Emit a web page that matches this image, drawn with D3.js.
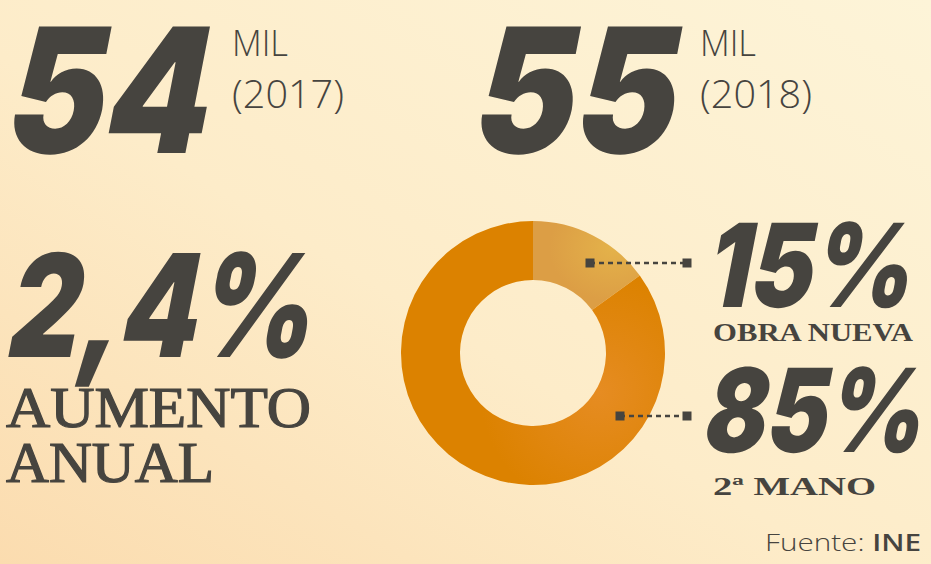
<!DOCTYPE html>
<html>
<head>
<meta charset="utf-8">
<script src="https://cdn.jsdelivr.net/npm/d3@7"></script>
<style>
  html, body { margin: 0; padding: 0; }
  body { width: 931px; height: 564px; overflow: hidden; }
</style>
</head>
<body>
<svg id="chart"></svg>
<script>
// figures
const years = ["2017", "2018"];
const yearTotals = [54, 55];
const totalUnit = "MIL";
const growthLabel = "2,4%";
const growthText = ["AUMENTO", "ANUAL"];
const shareNames = ["OBRA NUEVA", "2ª MANO"];
const shareValues = [15, 85];
const sourceText = "Fuente:";
const sourceName = "INE";

const width = 931, height = 564;
const ink = "#46443f";

const svg = d3.select("#chart")
    .attr("width", width)
    .attr("height", height);

const defs = svg.append("defs");

// warm background gradient
const bg = defs.append("linearGradient").attr("id", "bg")
    .attr("x1", 0).attr("y1", 1).attr("x2", 1).attr("y2", 0);
bg.append("stop").attr("offset", "0%").attr("stop-color", "#fbdcaf");
bg.append("stop").attr("offset", "45%").attr("stop-color", "#fdecc9");
bg.append("stop").attr("offset", "100%").attr("stop-color", "#fdf4d8");
svg.append("rect").attr("width", width).attr("height", height).attr("fill", "url(#bg)");

// slice gradients
const g1 = defs.append("radialGradient").attr("id", "slice0")
    .attr("cx", "75%").attr("cy", "30%").attr("r", "60%");
g1.append("stop").attr("offset", "0%").attr("stop-color", "#e4b24a");
g1.append("stop").attr("offset", "100%").attr("stop-color", "#dc9e45");
const g2 = defs.append("radialGradient").attr("id", "slice1")
    .attr("cx", "75%").attr("cy", "65%").attr("r", "45%");
g2.append("stop").attr("offset", "0%").attr("stop-color", "#e68c22");
g2.append("stop").attr("offset", "100%").attr("stop-color", "#dc8200");

const bigFont = "Inter, 'Open Sans', sans-serif";
const thinFont = "'Open Sans', Lato, sans-serif";
const serifFont = "'Liberation Serif', 'DejaVu Serif', serif";

// heavy oblique numerals: Inter black, slanted by hand
function bigNumber(txt, x, y, size, len) {
    return svg.append("text")
        .attr("transform", `translate(${x},${y}) skewX(-11)`)
        .attr("font-family", bigFont)
        .attr("font-weight", 900)
        .attr("font-size", size)
        .attr("textLength", len)
        .attr("lengthAdjust", "spacingAndGlyphs")
        .attr("fill", ink)
        .text(txt);
}

// yearly totals
const totalX = [0, 467];
const unitX = [232, 700];
years.forEach((yr, i) => {
    bigNumber(String(yearTotals[i]), totalX[i], 153, 174, 203);
    svg.append("text")
        .attr("x", unitX[i]).attr("y", 56)
        .attr("font-family", thinFont).attr("font-weight", 300)
        .attr("font-size", 36)
        .attr("textLength", 56).attr("lengthAdjust", "spacingAndGlyphs")
        .attr("fill", ink)
        .text(totalUnit);
    svg.append("text")
        .attr("x", unitX[i]).attr("y", 108)
        .attr("font-family", thinFont).attr("font-weight", 300)
        .attr("font-size", 38)
        .attr("textLength", 112).attr("lengthAdjust", "spacingAndGlyphs")
        .attr("fill", ink)
        .text("(" + yr + ")");
});

// yearly growth
bigNumber(growthLabel, 3, 357, 143, 306);
const growthLens = [305, 208];
growthText.forEach((t, i) => {
    svg.append("text")
        .attr("x", 6).attr("y", 427 + i * 55)
        .attr("font-family", serifFont).attr("font-weight", 400)
        .attr("font-size", 56)
        .attr("stroke", ink).attr("stroke-width", 1.2)
        .attr("textLength", growthLens[i]).attr("lengthAdjust", "spacingAndGlyphs")
        .attr("fill", ink)
        .text(t);
});

// donut of new vs used
const cx = 533, cy = 353;
const pie = d3.pie().sort(null).value(d => d);
const arc = d3.arc().innerRadius(73).outerRadius(132);
const donut = svg.append("g").attr("transform", `translate(${cx},${cy})`);
donut.selectAll("path")
    .data(pie(shareValues))
    .join("path")
    .attr("d", arc)
    .attr("fill", (d, i) => `url(#slice${i})`);

// labels and leader lines
const labelY = [307, 452];
const nameY = [341, 495];
const nameLens = [200, 163];
const leaderY = [263, 416];
const leaderX0 = [590, 620];
const leaderX1 = 687;
shareValues.forEach((v, i) => {
    bigNumber(v + "%", i === 0 ? 703 : 700, labelY[i], 116, i === 0 ? 206 : 220);
    svg.append("text")
        .attr("x", 713).attr("y", nameY[i])
        .attr("font-family", serifFont).attr("font-weight", 700)
        .attr("font-size", 25)
        .attr("textLength", nameLens[i]).attr("lengthAdjust", "spacingAndGlyphs")
        .attr("fill", ink)
        .text(shareNames[i]);
    svg.append("line")
        .attr("x1", leaderX0[i]).attr("x2", leaderX1)
        .attr("y1", leaderY[i]).attr("y2", leaderY[i])
        .attr("stroke", ink).attr("stroke-width", 2.5)
        .attr("stroke-dasharray", "5,4");
    [leaderX0[i], leaderX1].forEach(x => {
        svg.append("rect")
            .attr("x", x - 4.5).attr("y", leaderY[i] - 4.5)
            .attr("width", 9).attr("height", 9)
            .attr("fill", ink);
    });
});

// source
const src = svg.append("text")
    .attr("x", 921).attr("y", 551)
    .attr("text-anchor", "end")
    .attr("font-family", thinFont)
    .attr("font-size", 24)
    .attr("textLength", 156).attr("lengthAdjust", "spacingAndGlyphs")
    .attr("fill", ink);
src.append("tspan").attr("font-weight", 300).text(sourceText + " ");
src.append("tspan").attr("font-weight", 600).text(sourceName);
</script>
</body>
</html>
